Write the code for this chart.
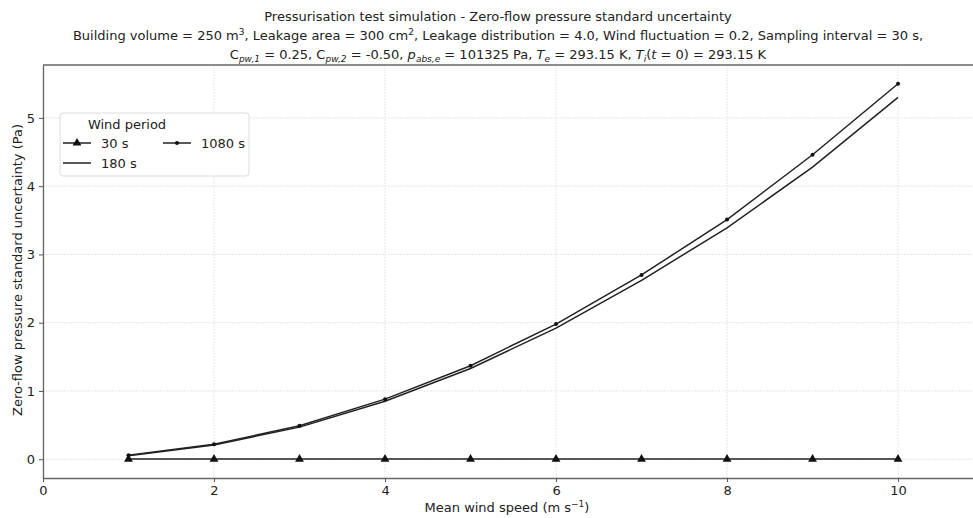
<!DOCTYPE html>
<html>
<head>
<meta charset="utf-8">
<script src="https://cdn.jsdelivr.net/npm/d3@7"></script>
<style>
  body { margin: 0; background: #fff; }
  text { font-family: "DejaVu Sans", sans-serif; fill: #222; }
</style>
</head>
<body>
<script>
// data
const windSpeed = [1, 2, 3, 4, 5, 6, 7, 8, 9, 10];
const u30 = [0.002, 0.002, 0.002, 0.002, 0.002, 0.002, 0.002, 0.002, 0.002, 0.002];
const u180 = [0.05, 0.21, 0.47, 0.85, 1.33, 1.92, 2.62, 3.39, 4.28, 5.30];
const u1080 = [0.06, 0.22, 0.49, 0.88, 1.37, 1.98, 2.70, 3.51, 4.46, 5.50];
const xTicks = [0, 2, 4, 6, 8, 10];
const yTicks = [0, 1, 2, 3, 4, 5];

const w = 973;
const h = 518;
const margin = { left: 43, right: -2, top: 65, bottom: 40 };

const svg = d3
  .select("body")
  .append("svg")
  .attr("width", w)
  .attr("height", h);

const xScale = d3
  .scaleLinear()
  .domain([0, 10.9])
  .range([margin.left, w - margin.right]);

const yScale = d3
  .scaleLinear()
  .domain([-0.275, 5.775])
  .range([h - margin.bottom, margin.top]);

// grid
svg
  .append("g")
  .selectAll("line")
  .data(xTicks)
  .enter()
  .append("line")
  .attr("x1", (d) => xScale(d))
  .attr("x2", (d) => xScale(d))
  .attr("y1", margin.top)
  .attr("y2", h - margin.bottom)
  .attr("stroke", "#e6e6e6")
  .attr("stroke-dasharray", "2,1")
  .attr("stroke-width", 1);

svg
  .append("g")
  .selectAll("line")
  .data(yTicks)
  .enter()
  .append("line")
  .attr("x1", margin.left)
  .attr("x2", w - margin.right)
  .attr("y1", (d) => yScale(d))
  .attr("y2", (d) => yScale(d))
  .attr("stroke", "#e6e6e6")
  .attr("stroke-dasharray", "2,1")
  .attr("stroke-width", 1);

// axes
const xAxis = d3
  .axisBottom(xScale)
  .tickValues(xTicks)
  .tickSize(4)
  .tickSizeOuter(0)
  .tickPadding(4)
  .tickFormat(d3.format("d"));
const yAxis = d3
  .axisLeft(yScale)
  .tickValues(yTicks)
  .tickSize(4)
  .tickSizeOuter(0)
  .tickPadding(4)
  .tickFormat(d3.format("d"));

const gx = svg
  .append("g")
  .attr("transform", `translate(0, ${h - margin.bottom})`)
  .call(xAxis);
const gy = svg
  .append("g")
  .attr("transform", `translate(${margin.left}, 0)`)
  .call(yAxis);

[gx, gy].forEach((g) => {
  g.selectAll("text").style("font-size", "13px").attr("fill", "#222");
  g.selectAll("line").attr("stroke", "#555");
  g.select(".domain").attr("stroke", "#666").attr("stroke-width", 1.3);
});

// top spine
svg
  .append("line")
  .attr("x1", margin.left)
  .attr("x2", w)
  .attr("y1", margin.top)
  .attr("y2", margin.top)
  .attr("stroke", "#666")
  .attr("stroke-width", 1.3);

// series
const line = d3
  .line()
  .x((d, i) => xScale(windSpeed[i]))
  .y((d) => yScale(d));

const series = [
  { name: "30 s", values: u30, marker: "tri" },
  { name: "180 s", values: u180, marker: "none" },
  { name: "1080 s", values: u1080, marker: "dot" },
];

const triangle = d3.symbol().type(d3.symbolTriangle).size(34);

series.forEach((s) => {
  svg
    .append("path")
    .datum(s.values)
    .attr("d", line)
    .attr("fill", "none")
    .attr("stroke", "#222")
    .attr("stroke-width", 1.5);

  if (s.marker === "tri") {
    svg
      .append("g")
      .selectAll("path")
      .data(s.values)
      .enter()
      .append("path")
      .attr("d", triangle)
      .attr("transform", (d, i) => `translate(${xScale(windSpeed[i])}, ${yScale(d)})`)
      .attr("fill", "#111");
  } else if (s.marker === "dot") {
    svg
      .append("g")
      .selectAll("circle")
      .data(s.values)
      .enter()
      .append("circle")
      .attr("cx", (d, i) => xScale(windSpeed[i]))
      .attr("cy", (d) => yScale(d))
      .attr("r", 2)
      .attr("fill", "#111");
  }
});

// titles
const titles = [
  "Pressurisation test simulation - Zero-flow pressure standard uncertainty",
  'Building volume = 250 m<tspan dy="-5" font-size="9">3</tspan><tspan dy="5">, Leakage area = 300 cm</tspan><tspan dy="-5" font-size="9">2</tspan><tspan dy="5">, Leakage distribution = 4.0, Wind fluctuation = 0.2, Sampling interval = 30 s,</tspan>',
  'C<tspan dy="3" font-size="9" font-style="italic">pw,1</tspan><tspan dy="-3"> = 0.25, C</tspan><tspan dy="3" font-size="9" font-style="italic">pw,2</tspan><tspan dy="-3"> = -0.50, </tspan><tspan font-style="italic">p</tspan><tspan dy="3" font-size="9" font-style="italic">abs,e</tspan><tspan dy="-3"> = 101325 Pa, </tspan><tspan font-style="italic">T</tspan><tspan dy="3" font-size="9" font-style="italic">e</tspan><tspan dy="-3"> = 293.15 K, </tspan><tspan font-style="italic">T</tspan><tspan dy="3" font-size="9" font-style="italic">i</tspan><tspan dy="-3">(</tspan><tspan font-style="italic">t</tspan><tspan> = 0) = 293.15 K</tspan>',
];

svg
  .selectAll("text.title")
  .data(titles)
  .enter()
  .append("text")
  .attr("class", "title")
  .attr("x", 498)
  .attr("y", (d, i) => 21 + i * 19)
  .attr("text-anchor", "middle")
  .style("font-size", "13px")
  .html((d) => d);

// axis labels
svg
  .append("text")
  .attr("x", 507)
  .attr("y", 512)
  .attr("text-anchor", "middle")
  .style("font-size", "13px")
  .html('Mean wind speed (m s<tspan dy="-5" font-size="9">−1</tspan><tspan dy="5">)</tspan>');

svg
  .append("text")
  .attr("transform", "translate(22, 270) rotate(-90)")
  .attr("text-anchor", "middle")
  .style("font-size", "13px")
  .text("Zero-flow pressure standard uncertainty (Pa)");

// legend
const legend = svg.append("g").attr("transform", "translate(60, 113)");
legend
  .append("rect")
  .attr("width", 189)
  .attr("height", 63)
  .attr("rx", 3)
  .attr("fill", "#fff")
  .attr("fill-opacity", 0.85)
  .attr("stroke", "#ddd");

legend
  .append("text")
  .attr("x", 67)
  .attr("y", 16)
  .attr("text-anchor", "middle")
  .style("font-size", "13px")
  .text("Wind period");

const legendItems = [
  { s: series[0], x: 3, y: 30 },
  { s: series[2], x: 103, y: 30 },
  { s: series[1], x: 3, y: 50 },
];

legendItems.forEach(({ s, x, y }) => {
  legend
    .append("line")
    .attr("x1", x)
    .attr("x2", x + 28)
    .attr("y1", y)
    .attr("y2", y)
    .attr("stroke", "#222")
    .attr("stroke-width", 1.5);
  if (s.marker === "tri") {
    legend
      .append("path")
      .attr("d", triangle)
      .attr("transform", `translate(${x + 14}, ${y})`)
      .attr("fill", "#111");
  } else if (s.marker === "dot") {
    legend
      .append("circle")
      .attr("cx", x + 14)
      .attr("cy", y)
      .attr("r", 2)
      .attr("fill", "#111");
  }
  legend
    .append("text")
    .attr("x", x + 38)
    .attr("y", y + 5)
    .style("font-size", "13px")
    .text(s.name);
});
</script>
</body>
</html>
